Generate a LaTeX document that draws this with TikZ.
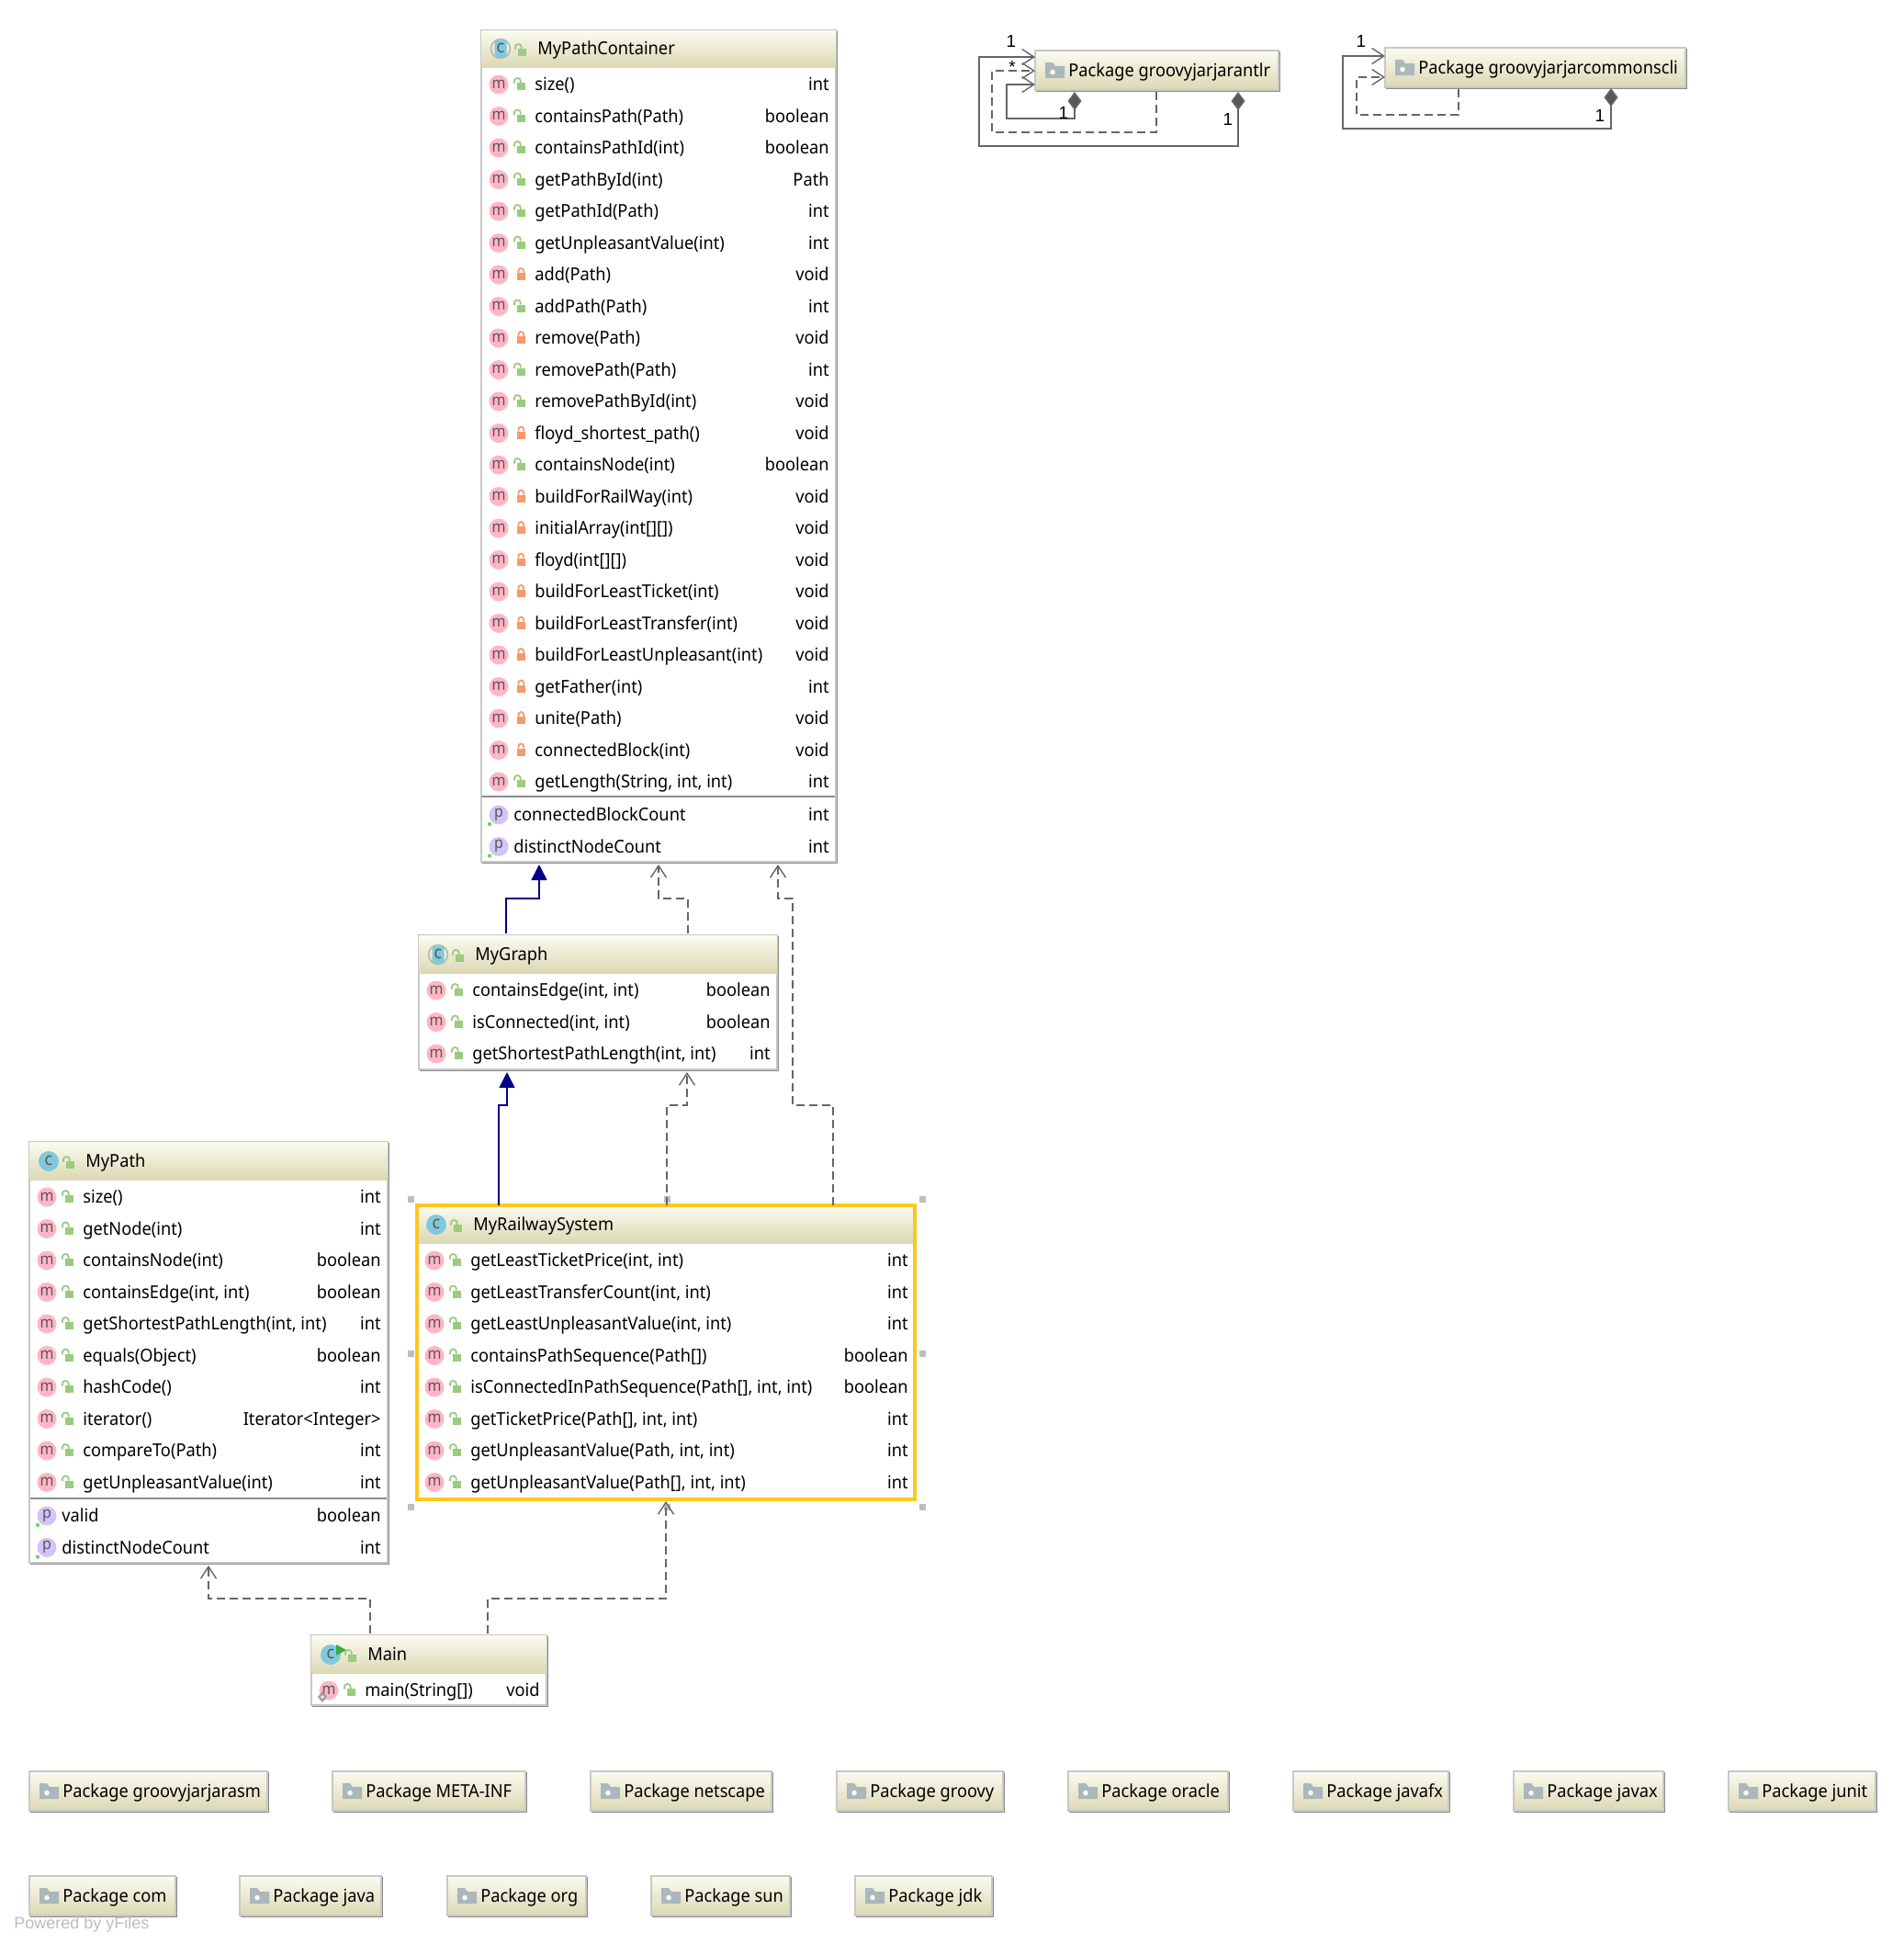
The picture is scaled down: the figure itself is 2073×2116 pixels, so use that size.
\documentclass[tikz,border=0pt]{standalone}
\usepackage{fontspec}
\setmainfont[FakeStretch=0.94]{Noto Sans}
\newfontfamily\labfont{Liberation Sans}
\usetikzlibrary{arrows.meta,calc}
\definecolor{hdtop}{HTML}{FBFBF0}
\definecolor{hdbot}{HTML}{DCD8B4}
\definecolor{bdlight}{HTML}{C8C8C8}
\definecolor{bdshadow}{HTML}{8C8C8C}
\definecolor{mpink}{HTML}{FFB6C4}
\definecolor{ppurple}{HTML}{D2C4F8}
\definecolor{cblue}{HTML}{7FC9DC}
\definecolor{lockg}{HTML}{9BCB7D}
\definecolor{lockr}{HTML}{F59A6B}
\definecolor{icontext}{HTML}{5F5458}
\definecolor{folder}{HTML}{AAB7BB}
\definecolor{conn}{HTML}{666666}
\definecolor{inhblue}{HTML}{000088}
\definecolor{sel}{HTML}{FFC71E}
\definecolor{handle}{HTML}{BDBDBD}
\newcounter{tn}
\tikzset{
  x=0.5pt,y=-0.5pt,
  boxnode/.style={inner sep=0pt,outer sep=0pt,fill=white,draw=bdlight,line width=1pt},
  lab/.style={font=\fontsize{9.7}{12}\selectfont,inner sep=0pt,text=black},
  icn/.style={font=\fontsize{8.5}{9}\selectfont,inner sep=0pt,text=icontext},
  dep/.style={draw=conn,line width=0.8pt,dash pattern=on 4.6pt off 2.4pt,-{Straight Barb[length=6.5pt,width=8.5pt,line width=0.7pt]}},
  inh/.style={draw=inhblue,line width=0.8pt,-{Triangle[length=8.5pt,width=8.5pt,fill=inhblue]}},
  comp/.style={draw=conn,line width=0.8pt,{Diamond[length=10pt,width=7.5pt,fill=conn!85!black]}-{Straight Barb[length=6.5pt,width=8.5pt,line width=0.7pt]}},
  dep2/.style={draw=conn,line width=0.8pt,dash pattern=on 4.6pt off 2.4pt,-{Straight Barb[length=6.5pt,width=8.5pt,line width=0.7pt]}},
  mult/.style={font=\labfont\fontsize{9.5}{11}\selectfont,inner sep=0pt,text=black},
  hnd/.style={fill=handle},
}
% box: name, l, t, r, b, header bottom
\newcommand\ubox[6]{%
  \def\lx{#2}\def\rx{#4}\def\bt{#3}%
  \fill[bdshadow] (#2+1,#3+1) rectangle (#4+1.5,#5+1.5);
  \node[boxnode,minimum width={(#4-#2)*0.5pt},minimum height={(#5-#3)*0.5pt}] (#1) at ({(#2+#4)/2},{(#3+#5)/2}) {};
  \fill[top color=hdtop,bottom color=hdbot] (#2+0.5,#3+0.5) rectangle (#4-0.5,#6);
}
\newcommand\glock[2]{%
  \fill[lockg] (#1+38.5,#2-2) rectangle (#1+48,#2+6);
  \draw[lockg,line width=0.9pt] (#1+36,#2-1.5) -- (#1+36,#2-4) arc[start angle=180,end angle=360,x radius=3.4,y radius=3] -- (#1+42.8,#2-2);
}
\newcommand\rlock[2]{%
  \fill[lockr] (#1+38.5,#2-2) rectangle (#1+48,#2+6);
  \draw[lockr,line width=0.9pt] (#1+40.4,#2-2) -- (#1+40.4,#2-4) arc[start angle=180,end angle=360,x radius=2.9,y radius=3] -- (#1+46.2,#2-2);
}
% header: kind (n normal, a abstract, r runnable), title
\newcommand\hdr[3]{%
  \stepcounter{tn}%
  \ifx a#1
    \draw[gray!60,line width=0.7pt] (\lx+21,#2) circle (10.5);
    \fill[cblue,rounded corners=1.5pt] (\lx+14.5,#2-9.5) rectangle (\lx+27.5,#2+9.5);
  \else
    \fill[cblue] (\lx+21,#2) circle (11);
  \fi
  \node[icn,font=\fontsize{9.5}{9}\selectfont] (ci\thetn) at (\lx+21,#2-0.5) {c};
  \ifx r#1
    \fill[green!55!black!75] (\lx+27,#2-11) -- (\lx+38,#2-5) -- (\lx+27,#2+1) -- cycle;
  \fi
  \glock{\lx+1}{#2+2}
  \node[lab,anchor=base west] (tt\thetn) at (\lx+61,#2+6.5) {#3};
}
% method row: lock (g/r), name, type
\newcommand\mrow[3]{%
  \stepcounter{tn}%
  \fill[mpink] (\lx+19,\cy) circle (10.5);
  \node[icn] (mi\thetn) at (\lx+19,\cy-0.5) {m};
  \ifx g#1 \glock{\lx}{\cy} \else \rlock{\lx}{\cy} \fi
  \node[lab,anchor=base west] (mn\thetn) at (\lx+58,\cy+6.5) {#2};
  \node[lab,anchor=base east] (mt\thetn) at (\rx-7,\cy+6.5) {#3};
  \pgfmathsetmacro\cy{\cy+34.5}
}
\newcommand\prow[2]{%
  \stepcounter{tn}%
  \fill[ppurple] (\lx+19,\cy) circle (10.5);
  \fill[lockg!70!green] (\lx+9,\cy+10) circle (2.2);
  \node[icn] (pi\thetn) at (\lx+19,\cy-0.5) {p};
  \node[lab,anchor=base west] (pn\thetn) at (\lx+35,\cy+6.5) {#1};
  \node[lab,anchor=base east] (pt\thetn) at (\rx-7,\cy+6.5) {#2};
  \pgfmathsetmacro\cy{\cy+34.5}
}
% package: name, l, r, t, b, text
\newcommand\pkg[6]{%
  \fill[bdshadow] (#2+1,#4+1) rectangle (#3+1.5,#5+1.5);
  \node[inner sep=0pt,outer sep=0pt,draw=bdlight,line width=1pt,top color=hdtop,bottom color=hdbot,minimum width={(#3-#2)*0.5pt},minimum height={(#5-#4)*0.5pt}] (#1) at ({(#2+#3)/2},{(#4+#5)/2}) {};
  \fill[folder] (#2+11,#4+13) -- (#2+19,#4+13) -- (#2+22,#4+17) -- (#2+32,#4+17) -- (#2+32,#4+30) -- (#2+11,#4+30) -- cycle;
  \fill[hdtop] (#2+19,#4+23.5) circle (2.8);
  \node[lab,anchor=base west] (#1-t) at (#2+36,#4+28) {#6};
}
\begin{document}
\begin{tikzpicture}
\useasboundingbox (0,0) rectangle (2073,2116);
\fill[white] (0,0) rectangle (2073,2116);

% MyPathContainer
\ubox{mpc}{524}{33}{910}{938}{73}
\hdr{a}{53}{MyPathContainer}
\def\cy{92}
\mrow{g}{size()}{int}
\mrow{g}{containsPath(Path)}{boolean}
\mrow{g}{containsPathId(int)}{boolean}
\mrow{g}{getPathById(int)}{Path}
\mrow{g}{getPathId(Path)}{int}
\mrow{g}{getUnpleasantValue(int)}{int}
\mrow{r}{add(Path)}{void}
\mrow{g}{addPath(Path)}{int}
\mrow{r}{remove(Path)}{void}
\mrow{g}{removePath(Path)}{int}
\mrow{g}{removePathById(int)}{void}
\mrow{r}{floyd\_shortest\_path()}{void}
\mrow{g}{containsNode(int)}{boolean}
\mrow{r}{buildForRailWay(int)}{void}
\mrow{r}{initialArray(int[][])}{void}
\mrow{r}{floyd(int[][])}{void}
\mrow{r}{buildForLeastTicket(int)}{void}
\mrow{r}{buildForLeastTransfer(int)}{void}
\mrow{r}{buildForLeastUnpleasant(int)}{void}
\mrow{r}{getFather(int)}{int}
\mrow{r}{unite(Path)}{void}
\mrow{r}{connectedBlock(int)}{void}
\mrow{g}{getLength(String, int, int)}{int}
\draw[bdshadow,line width=0.7pt] (525,867) -- (909,867);
\def\cy{887}
\prow{connectedBlockCount}{int}
\prow{distinctNodeCount}{int}

% MyGraph
\ubox{mg}{456}{1018}{846}{1164}{1059}
\hdr{a}{1039}{MyGraph}
\def\cy{1078}
\mrow{g}{containsEdge(int, int)}{boolean}
\mrow{g}{isConnected(int, int)}{boolean}
\mrow{g}{getShortestPathLength(int, int)}{int}

% MyPath
\ubox{mp}{32}{1243}{422}{1701}{1284}
\hdr{n}{1264}{MyPath}
\def\cy{1303}
\mrow{g}{size()}{int}
\mrow{g}{getNode(int)}{int}
\mrow{g}{containsNode(int)}{boolean}
\mrow{g}{containsEdge(int, int)}{boolean}
\mrow{g}{getShortestPathLength(int, int)}{int}
\mrow{g}{equals(Object)}{boolean}
\mrow{g}{hashCode()}{int}
\mrow{g}{iterator()}{Iterator<Integer>}
\mrow{g}{compareTo(Path)}{int}
\mrow{g}{getUnpleasantValue(int)}{int}
\draw[bdshadow,line width=0.7pt] (33,1631) -- (421,1631);
\def\cy{1650}
\prow{valid}{boolean}
\prow{distinctNodeCount}{int}

% MyRailwaySystem
\ubox{mrs}{454}{1312}{996}{1632}{1353}
\hdr{n}{1333}{MyRailwaySystem}
\def\cy{1372}
\mrow{g}{getLeastTicketPrice(int, int)}{int}
\mrow{g}{getLeastTransferCount(int, int)}{int}
\mrow{g}{getLeastUnpleasantValue(int, int)}{int}
\mrow{g}{containsPathSequence(Path[])}{boolean}
\mrow{g}{isConnectedInPathSequence(Path[], int, int)}{boolean}
\mrow{g}{getTicketPrice(Path[], int, int)}{int}
\mrow{g}{getUnpleasantValue(Path, int, int)}{int}
\mrow{g}{getUnpleasantValue(Path[], int, int)}{int}
\draw[sel,line width=1.6pt] (454,1312) rectangle (996,1632);
\foreach \hx/\hy in {447/1305,726/1305,1004/1305,447/1473,1004/1473,447/1640,726/1640,1004/1640}
  \fill[hnd] (\hx-3.5,\hy-3.5) rectangle (\hx+3.5,\hy+3.5);

% Main
\ubox{mn}{339}{1780}{595}{1856}{1821}
\hdr{r}{1801}{Main}
\def\cy{1840}
\mrow{g}{main(String[])}{void}
\fill[gray!75] (351,1841) -- (356,1847) -- (351,1853) -- (346,1847) -- cycle;
\fill[white!85!gray] (351,1845) -- (353,1847) -- (351,1849) -- (349,1847) -- cycle;

% Package boxes with relations
\pkg{ant}{1127}{1392}{55}{98}{Package groovyjarjarantlr}
\pkg{cli}{1508}{1835}{52}{95}{Package groovyjarjarcommonscli}
\pkg{asm}{32}{291}{1928}{1971}{Package groovyjarjarasm}
\pkg{meta}{362}{572}{1928}{1971}{Package META-INF}
\pkg{nets}{643}{840}{1928}{1971}{Package netscape}
\pkg{groo}{911}{1092}{1928}{1971}{Package groovy}
\pkg{orac}{1163}{1337}{1928}{1971}{Package oracle}
\pkg{jafx}{1408}{1577}{1928}{1971}{Package javafx}
\pkg{jaxx}{1648}{1811}{1928}{1971}{Package javax}
\pkg{juni}{1882}{2042}{1928}{1971}{Package junit}
\pkg{comm}{32}{191}{2042}{2085}{Package com}
\pkg{java}{261}{415}{2042}{2085}{Package java}
\pkg{orgg}{487}{638}{2042}{2085}{Package org}
\pkg{sunn}{709}{860}{2042}{2085}{Package sun}
\pkg{jdkk}{931}{1080}{2042}{2085}{Package jdk}

% connectors
\draw[inh] ($(mg.north west)+(95,-2)$) -- ++(0,-38) -- ++(36,0) -- ($(mpc.south west)+(63,3)$);
\draw[dep] ($(mg.north west)+(293,-2)$) -- ++(0,-38) -- ++(-32,0) -- ($(mpc.south west)+(193,3)$);
\draw[dep] ($(mrs.north west)+(453,0)$) -- ++(0,-109) -- ++(-44,0) -- ++(0,-225) -- ++(-16,0) -- ($(mpc.south west)+(323,3)$);
\draw[inh] ($(mrs.north west)+(89,0)$) -- ++(0,-109) -- ++(9,0) -- ($(mg.south west)+(96,3)$);
\draw[dep] ($(mrs.north west)+(272,0)$) -- ++(0,-109) -- ++(22,0) -- ($(mg.south west)+(292,3)$);
\draw[dep] ($(mn.north west)+(64,-2)$) -- ++(0,-38) -- ++(-176,0) -- ($(mp.south west)+(195,3)$);
\draw[dep] ($(mn.north west)+(192,-2)$) -- ++(0,-38) -- ++(194,0) -- ($(mrs.south west)+(271,2)$);

\draw[comp] ($(ant.south west)+(221,2)$) -- ++(0,59) -- ++(-282,0) -- ++(0,-97) -- ($(ant.north west)+(0,7)$);
\draw[dep2] ($(ant.south west)+(132,2)$) -- ++(0,44) -- ++(-179,0) -- ++(0,-67) -- ($(ant.north west)+(0,22)$);
\draw[comp] ($(ant.south west)+(43,2)$) -- ++(0,29) -- ++(-74,0) -- ++(0,-37) -- ($(ant.north west)+(0,37)$);
\draw[comp] ($(cli.south west)+(246,1)$) -- ++(0,44) -- ++(-292,0) -- ++(0,-79) -- ($(cli.north west)+(0,9)$);
\draw[dep2] ($(cli.south west)+(80,2)$) -- ++(0,28) -- ++(-111,0) -- ++(0,-41) -- ($(cli.north west)+(0,32)$);

\node[mult] (l1) at (1101,45) {1};
\node[mult] (l2) at (1102,73) {*};
\node[mult] (l3) at (1158,123) {1};
\node[mult] (l4) at (1337,130) {1};
\node[mult] (l5) at (1482,45) {1};
\node[mult] (l6) at (1742,126) {1};

\node[font=\labfont\fontsize{9}{11}\selectfont,text=handle,inner sep=0pt,anchor=base west] (yf) at (15,2099) {Powered by yFiles};
\end{tikzpicture}
\end{document}
